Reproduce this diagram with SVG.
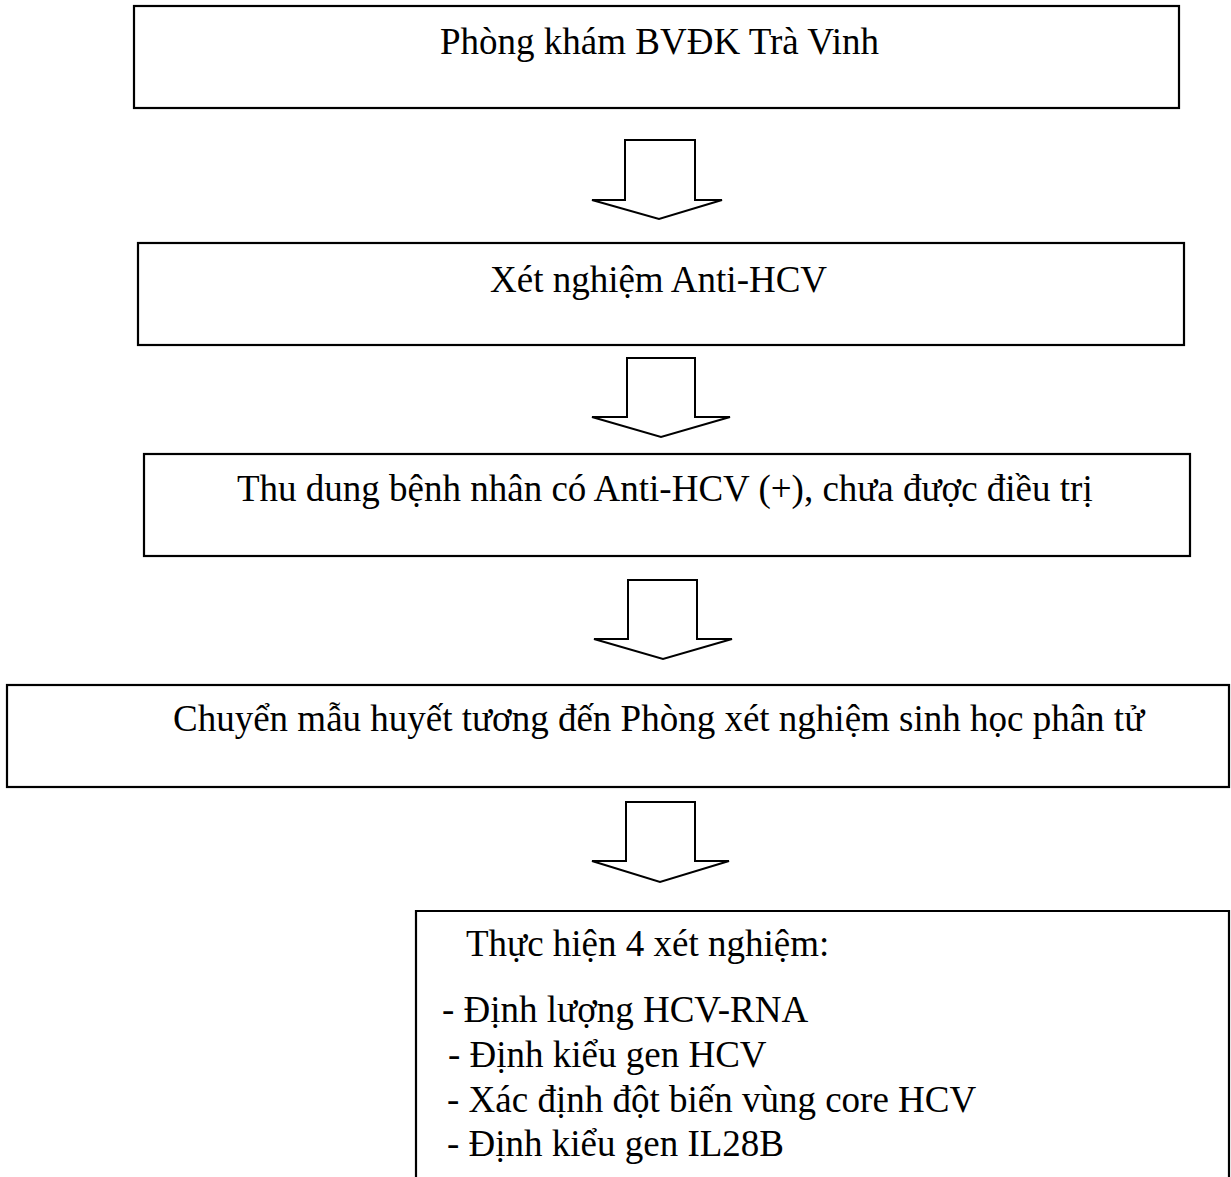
<svg xmlns="http://www.w3.org/2000/svg" width="1231" height="1177" viewBox="0 0 1231 1177">
<style>
.box{fill:#fff;stroke:#000;stroke-width:2.2}
.arr{fill:#fff;stroke:#000;stroke-width:2;stroke-linejoin:miter}
text{font-family:"Liberation Serif","Times New Roman",serif;font-size:37px;fill:#000}
</style>
<rect width="1231" height="1177" fill="#fff"/>
<g id="n1"><rect class="box" x="134" y="6" width="1045" height="102"/><text x="440" y="54">Phòng khám BVĐK Trà Vinh</text></g>
<g id="n2"><rect class="box" x="138" y="243" width="1046" height="102"/><text x="490" y="292">Xét nghiệm Anti-HCV</text></g>
<g id="n3"><rect class="box" x="144" y="454" width="1046" height="102"/><text x="237" y="501">Thu dung bệnh nhân có Anti-HCV (+), chưa được điều trị</text></g>
<g id="n4"><rect class="box" x="7" y="685" width="1222" height="102"/><text x="173" y="731">Chuyển mẫu huyết tương đến Phòng xét nghiệm sinh học phân tử</text></g>
<g id="n5"><path class="box" d="M416,1180 V911 H1229 V1180" fill="none"/>
<text x="466" y="956">Thực hiện 4 xét nghiệm:</text>
<text x="442" y="1022">- Định lượng HCV-RNA</text>
<text x="448" y="1067">- Định kiểu gen HCV</text>
<text x="447" y="1112">- Xác định đột biến vùng core HCV</text>
<text x="447" y="1156">- Định kiểu gen IL28B</text>
</g>
<g id="connectors">
<path class="arr" d="M625,140 H695 V200 H722 L659,219 L592,200 H625 Z"/>
<path class="arr" d="M627,358 H695 V417 H730 L661,437 L592,417 H627 Z"/>
<path class="arr" d="M628,580 H697 V639 H732 L663,659 L594,639 H628 Z"/>
<path class="arr" d="M626,802 H695 V861 H729 L660,882 L592,861 H626 Z"/>
</g>
</svg>
